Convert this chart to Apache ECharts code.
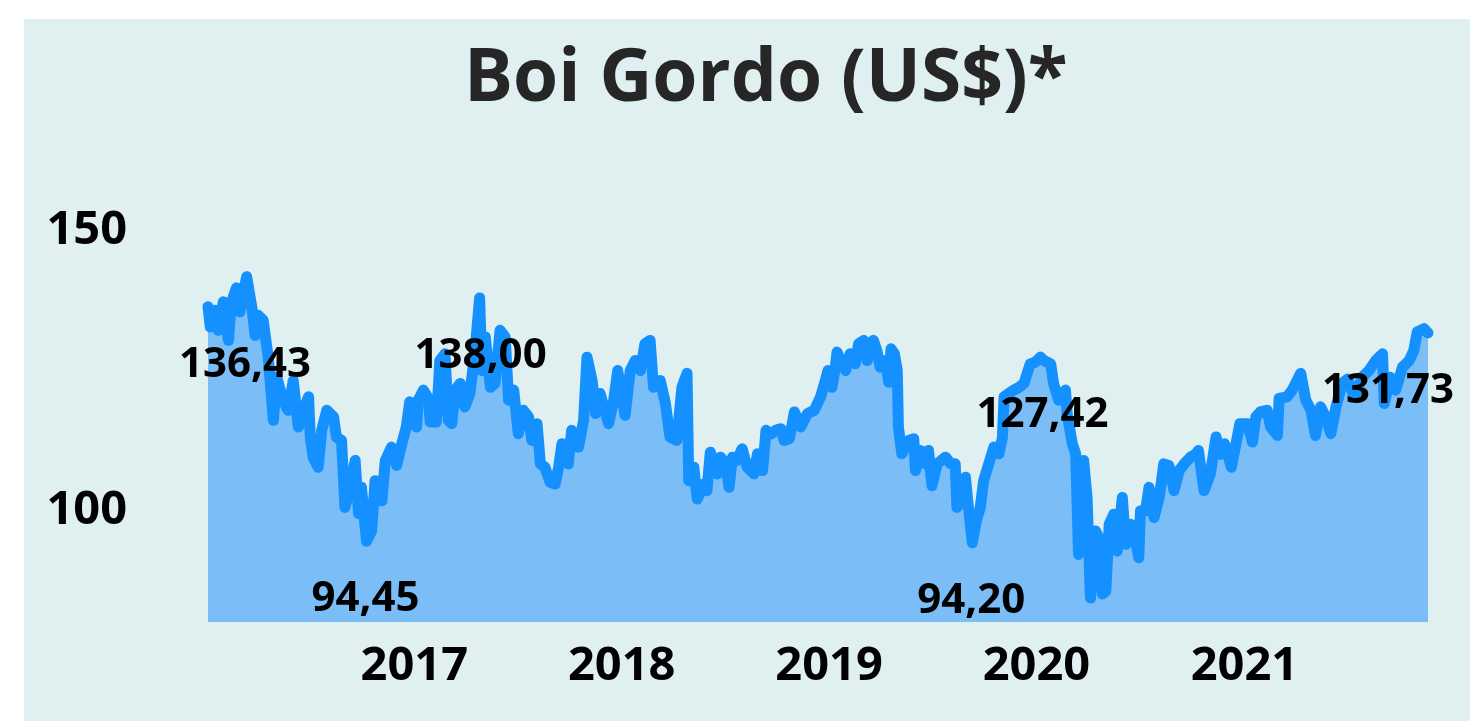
<!DOCTYPE html>
<html>
<head>
<meta charset="utf-8">
<script src="https://cdn.jsdelivr.net/npm/echarts@6/dist/echarts.min.js"></script>
<style>
  html, body { margin: 0; padding: 0; background: #fff; }
  #chart { position: absolute; left: 24px; top: 19px; width: 1446px; height: 702px; }
</style>
</head>
<body>
<div id="chart"></div>
<script>
// weekly-ish prices
const dates = [
  '2016-01-04','2016-01-08','2016-01-16','2016-01-22','2016-01-31','2016-02-09','2016-02-14','2016-02-23','2016-02-29','2016-03-12',
  '2016-03-21','2016-03-27','2016-04-01','2016-04-10','2016-04-19','2016-04-28','2016-05-04','2016-05-15','2016-05-24','2016-06-02',
  '2016-06-11','2016-06-20','2016-06-29','2016-07-02','2016-07-07','2016-07-16','2016-07-22','2016-07-31','2016-08-12','2016-08-17',
  '2016-08-26','2016-09-01','2016-09-10','2016-09-19','2016-09-25','2016-09-30','2016-10-09','2016-10-18','2016-10-24','2016-11-05',
  '2016-11-11','2016-11-22','2016-12-01','2016-12-10','2016-12-18','2016-12-24',
  '2017-01-05','2017-01-08','2017-01-17','2017-01-26','2017-01-29','2017-02-09','2017-02-15','2017-02-24','2017-03-02','2017-03-08',
  '2017-03-14','2017-03-23','2017-03-31','2017-04-09','2017-04-18','2017-04-26','2017-04-30','2017-05-06','2017-05-15','2017-05-23',
  '2017-06-01','2017-06-10','2017-06-16','2017-06-25','2017-07-03','2017-07-12','2017-07-21','2017-07-27','2017-08-05','2017-08-11',
  '2017-08-19','2017-08-28','2017-09-06','2017-09-12','2017-09-18','2017-09-29','2017-10-05','2017-10-17','2017-10-26','2017-11-01',
  '2017-11-10','2017-11-16','2017-11-24','2017-12-09','2017-12-18','2017-12-25',
  '2018-01-07','2018-01-16','2018-01-25','2018-02-03','2018-02-11','2018-02-20','2018-02-26','2018-03-10','2018-03-19','2018-03-27',
  '2018-04-08','2018-04-17','2018-04-26','2018-04-29','2018-05-08','2018-05-14','2018-05-25','2018-05-31','2018-06-06','2018-06-18',
  '2018-06-24','2018-07-03','2018-07-09','2018-07-15','2018-07-23','2018-08-01','2018-08-10','2018-08-22','2018-08-28','2018-09-06',
  '2018-09-12','2018-09-21','2018-09-29','2018-10-08','2018-10-14','2018-10-23','2018-11-01','2018-11-12','2018-11-24','2018-12-06',
  '2018-12-17','2018-12-24','2018-12-30',
  '2019-01-06','2019-01-12','2019-01-15','2019-01-21','2019-01-30','2019-02-07','2019-02-16','2019-02-22','2019-03-03','2019-03-09',
  '2019-03-20','2019-03-26','2019-04-01','2019-04-10','2019-04-16','2019-04-20','2019-04-26','2019-05-01','2019-05-03','2019-05-09',
  '2019-05-21','2019-05-30','2019-06-02','2019-06-11','2019-06-20','2019-06-25','2019-07-01','2019-07-10','2019-07-25','2019-08-03',
  '2019-08-11','2019-08-14','2019-08-23','2019-08-29','2019-09-02','2019-09-10','2019-09-17','2019-09-24','2019-09-30','2019-10-09',
  '2019-10-18','2019-10-27','2019-11-02','2019-11-05','2019-11-22','2019-12-01','2019-12-10','2019-12-21','2019-12-30',
  '2020-01-08','2020-01-14','2020-01-26','2020-01-31','2020-02-09','2020-02-21','2020-02-24','2020-03-04','2020-03-10','2020-03-15',
  '2020-03-24','2020-03-30','2020-04-05','2020-04-14','2020-04-20','2020-04-26','2020-05-02','2020-05-08','2020-05-16','2020-05-22',
  '2020-05-31','2020-06-06','2020-06-15','2020-06-20','2020-06-29','2020-07-02','2020-07-11','2020-07-17','2020-07-26','2020-08-04',
  '2020-08-12','2020-08-21','2020-08-30','2020-09-08','2020-09-17','2020-09-28','2020-10-07','2020-10-12','2020-10-22','2020-11-02',
  '2020-11-12','2020-11-20','2020-11-27','2020-12-09','2020-12-24',
  '2021-01-06','2021-01-15','2021-01-21','2021-01-29','2021-02-10','2021-02-16','2021-02-28','2021-03-03','2021-03-17','2021-03-26',
  '2021-04-10','2021-04-19','2021-04-28','2021-05-06','2021-05-15','2021-05-24','2021-06-02','2021-06-11','2021-06-22','2021-07-02',
  '2021-07-13','2021-07-27','2021-08-08','2021-08-20','2021-09-01','2021-09-04','2021-09-15','2021-09-24','2021-10-06','2021-10-18',
  '2021-10-26','2021-11-01','2021-11-13','2021-11-20'
];
const values = [
  136.43,132.8,135.8,132.2,137.3,130.4,137.1,139.8,135.5,141.8,
  136.4,131.3,134.9,134.0,127.4,116.1,123.8,119.7,117.9,123.2,
  114.9,117.9,120.3,113.1,109.5,107.7,114.3,117.9,116.7,113.1,
  112.5,100.5,104.1,108.9,99.4,104.1,94.45,96.3,105.3,101.7,
  108.9,111.3,108.0,111.9,114.9,119.4,
  114.9,119.7,121.5,120.0,115.8,115.8,126.8,128.0,116.1,115.5,
  121.5,122.7,118.5,120.9,128.6,138.00,125.0,131.0,122.0,122.7,
  132.2,131.0,119.7,121.5,113.7,117.9,116.7,112.5,115.5,108.3,
  107.7,105.0,104.7,107.7,111.9,108.3,114.3,111.3,116.1,127.4,
  123.2,117.3,120.9,115.5,119.7,125.0,
  117.0,125.0,126.8,125.0,129.8,130.4,122.0,123.2,119.1,113.1,
  112.5,122.0,124.5,105.3,107.7,102.0,104.7,103.5,110.4,106.5,
  109.5,108.3,104.1,109.5,108.9,111.0,107.7,106.5,110.1,107.1,
  114.3,113.7,114.3,114.6,112.5,112.8,117.6,114.9,117.3,117.9,
  120.3,122.7,125.0,
  122.0,125.6,128.3,126.8,125.0,128.0,126.2,129.8,130.4,126.8,
  130.4,128.6,125.6,126.8,122.9,128.9,128.0,125.0,114.9,110.1,
  112.5,112.8,107.1,110.7,108.3,110.7,104.4,108.3,109.5,108.3,
  108.3,100.5,102.3,105.9,101.7,94.20,98.1,100.5,105.3,108.3,
  111.3,110.1,113.0,120.3,121.5,122.0,122.7,126.2,126.5,
  127.42,126.8,126.2,122.7,119.7,121.5,117.3,111.9,110.1,92.1,
  108.9,102.3,84.3,96.3,95.1,85.0,85.5,97.5,99.3,92.7,
  102.3,93.9,97.5,96.3,91.5,99.9,99.9,104.1,98.7,102.3,
  108.3,108.0,103.5,107.1,108.3,109.5,110.0,110.7,103.5,106.5,
  113.1,110.0,111.9,107.7,115.5,
  115.5,112.2,116.7,117.6,117.9,114.9,113.4,120.0,120.3,121.5,
  124.5,119.7,117.9,113.4,118.5,116.7,113.7,118.5,122.7,123.5,
  120.3,123.8,125.0,126.8,128.0,119.1,123.8,121.5,125.6,126.8,
  128.6,131.9,132.5,131.73
];
const yTickLabels = [100, 150];
// highlighted values: date of the point and the text shown under it
const noteDates = ['2016-01-04', '2017-04-26', '2016-10-09', '2019-09-10', '2020-01-08', '2021-11-20'];
const noteTexts = ['136,43', '138,00', '94,45', '94,20', '127,42', '131,73'];
const noteShiftX = [37, 1, -1, -1, 2, -40];

const chart = echarts.init(document.getElementById('chart'));

const seriesData = dates.map((d, i) => [d, values[i]]);
const notes = noteDates.map((d, i) => {
  const idx = dates.indexOf(d);
  return {
    name: noteTexts[i],
    coord: [new Date(d + 'T00:00:00').getTime(), values[idx]],
    label: { offset: [noteShiftX[i], 58] }
  };
});

const option = {
  backgroundColor: '#e0eff0',
  animation: false,
  title: {
    text: 'Boi Gordo (US$)*',
    left: 440,
    top: 25,
    padding: 0,
    textStyle: {
      fontFamily: 'Open Sans',
      fontWeight: 'bold',
      fontSize: 73,
      color: '#262626'
    }
  },
  grid: {
    left: 184,
    right: 42,
    top: 156,
    bottom: 99
  },
  xAxis: {
    type: 'time',
    min: 'dataMin',
    max: 'dataMax',
    axisLine: { show: false },
    axisTick: { show: false },
    splitLine: { show: false },
    axisLabel: {
      margin: 21,
      fontFamily: 'Open Sans',
      fontWeight: 'bold',
      fontSize: 47,
      color: '#000',
      formatter: (val) => {
        const d = new Date(val);
        return (d.getMonth() === 0 && d.getDate() === 1) ? String(d.getFullYear()) : '';
      }
    }
  },
  yAxis: {
    type: 'value',
    min: 80,
    max: 160,
    interval: 10,
    axisLine: { show: false },
    axisTick: { show: false },
    splitLine: { show: false },
    axisLabel: {
      margin: 81,
      fontFamily: 'Open Sans',
      fontWeight: 'bold',
      fontSize: 47,
      color: '#000',
      formatter: (v) => yTickLabels.includes(v) ? String(v) : ''
    }
  },
  series: [
    {
      type: 'line',
      data: seriesData,
      showSymbol: false,
      smooth: false,
      lineStyle: { color: '#1490ff', width: 11, cap: 'round', join: 'round' },
      itemStyle: { color: '#1490ff' },
      areaStyle: { color: '#7abdf7', opacity: 1 },
      markPoint: {
        symbol: 'circle',
        symbolSize: 1,
        itemStyle: { color: 'rgba(0,0,0,0)' },
        label: {
          show: true,
          position: 'inside',
          formatter: '{b}',
          fontFamily: 'Open Sans',
          fontWeight: 'bold',
          fontSize: 42,
          color: '#000'
        },
        data: notes
      }
    }
  ]
};

chart.setOption(option);
</script>
</body>
</html>
